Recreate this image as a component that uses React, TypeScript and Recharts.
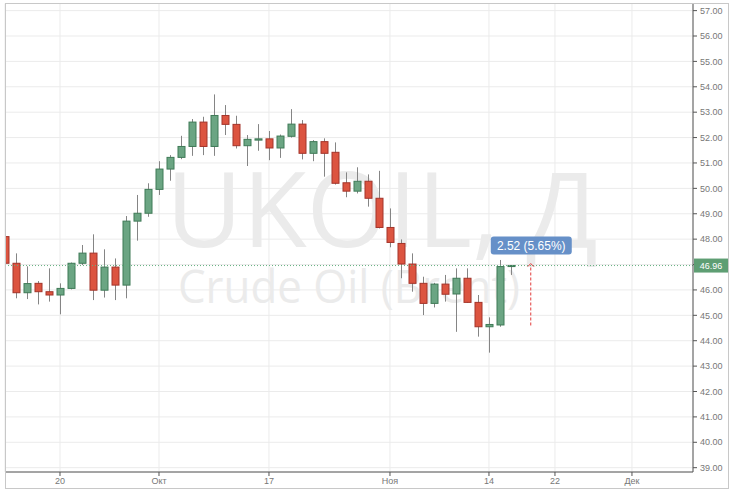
import { ComposedChart, Bar, XAxis, YAxis, CartesianGrid, ReferenceLine, ReferenceDot } from "recharts";

// Торговые дни (UKOIL, дневки)
const dates = [
  "13.09", "14.09", "15.09", "16.09", "19.09", "20.09", "21.09", "22.09", "23.09", "26.09",
  "27.09", "28.09", "29.09", "30.09", "03.10", "04.10", "05.10", "06.10", "07.10", "10.10",
  "11.10", "12.10", "13.10", "14.10", "17.10", "18.10", "19.10", "20.10", "21.10", "24.10",
  "25.10", "26.10", "27.10", "28.10", "31.10", "01.11", "02.11", "03.11", "04.11", "07.11",
  "08.11", "09.11", "10.11", "11.11", "14.11", "15.11", "16.11",
];
const opens = [
  48.1, 47.05, 45.89, 46.26, 45.93, 45.8, 46.06, 47.05, 47.45, 45.99,
  46.9, 46.19, 48.71, 49.02, 49.96, 50.76, 51.22, 51.65, 52.61, 51.65,
  52.87, 52.52, 51.68, 51.9, 51.95, 51.59, 52.05, 52.53, 51.38, 51.84,
  51.42, 50.22, 49.89, 50.28, 49.61, 48.46, 47.83, 47.02, 46.26, 45.47,
  46.23, 45.84, 46.46, 45.51, 44.55, 44.62, 46.92,
];
const highs = [
  48.4, 47.44, 46.93, 46.35, 46.85, 46.26, 47.08, 47.77, 48.19, 47.6,
  47.24, 48.91, 49.74, 50.2, 51.07, 51.31, 52.07, 52.73, 52.82, 53.7,
  53.28, 52.86, 52.1, 52.53, 52.26, 52.12, 53.12, 52.69, 51.9, 51.97,
  51.81, 50.63, 50.83, 50.55, 50.69, 49.21, 47.99, 47.44, 46.52, 46.28,
  46.59, 46.85, 46.85, 45.8, 44.92, 47.18, 46.98,
];
const lows = [
  46.9, 45.67, 45.64, 45.43, 45.54, 45.04, 46.02, 46.98, 45.6, 45.7,
  45.6, 45.67, 47.94, 48.88, 49.74, 50.3, 51.15, 51.28, 51.31, 51.28,
  52.1, 51.57, 50.88, 51.48, 51.11, 51.2, 52.0, 51.14, 51.07, 50.46,
  50.15, 49.65, 49.8, 49.28, 48.42, 47.68, 46.46, 45.93, 45.01, 45.31,
  45.54, 44.35, 45.49, 44.16, 43.53, 44.55, 46.59,
];
const closes = [
  47.05, 45.89, 46.25, 45.93, 45.8, 46.06, 47.05, 47.45, 45.99, 46.9,
  46.19, 48.71, 49.02, 49.96, 50.76, 51.22, 51.65, 52.61, 51.65, 52.87,
  52.52, 51.68, 51.93, 51.95, 51.59, 52.06, 52.53, 51.38, 51.84, 51.38,
  50.2, 49.89, 50.28, 49.61, 48.46, 47.87, 47.02, 46.26, 45.47, 46.23,
  45.83, 46.46, 45.51, 44.55, 44.64, 46.92, 46.96,
];

// подписи оси времени (индекс торгового дня -> подпись)
const tickIdx = [5, 14, 24, 35, 44, 50, 57];
const tickLabels = ["20", "Окт", "17", "Ноя", "14", "22", "Дек"];
const priceTicks = [39, 40, 41, 42, 43, 44, 45, 46, 47, 48, 49, 50, 51, 52, 53, 54, 55, 56, 57];

const lastPrice = 46.96;
const changeFrom = 44.6;
const changeIdx = 47.8;
const changeText = "2.52 (5.65%)";

const GREEN = "#6ba583";
const GREEN_EDGE = "#3f7a57";
const RED = "#dc5440";
const RED_EDGE = "#a3342a";
const FONT = "'Liberation Sans', Arial, sans-serif";

const rows = dates.map((d, i) => ({
  i,
  date: d,
  open: opens[i],
  high: highs[i],
  low: lows[i],
  close: closes[i],
  range: [lows[i], highs[i]],
}));

function Candle(props: any) {
  const { x, y, width, height, payload } = props;
  if (!payload || payload.open == null) return null;
  const { open, high, low, close } = payload;
  const top = Math.min(y, y + height);
  const h = Math.abs(height);
  const k = h / (high - low);
  const yO = top + (high - open) * k;
  const yC = top + (high - close) * k;
  const up = close >= open;
  const cx = Math.round(x + width / 2) + 0.5;
  const bTop = Math.min(yO, yC);
  const bH = Math.max(Math.abs(yO - yC), 1);
  return (
    <g>
      <line x1={cx} x2={cx} y1={top} y2={top + h} stroke="#858585" strokeWidth={1} />
      <rect
        x={cx - 3.5}
        y={bTop}
        width={7}
        height={bH}
        fill={up ? GREEN : RED}
        stroke={up ? GREEN_EDGE : RED_EDGE}
        strokeWidth={1}
      />
    </g>
  );
}

function PriceTag(props: any) {
  const { cx, cy } = props;
  return (
    <g>
      <rect x={cx + 1} y={cy - 7} width={34} height={14} fill="#5e9e73" />
      <text x={cx + 18} y={cy + 3.5} textAnchor="middle" fontSize={9} fill="#fff" fontFamily={FONT}>
        {lastPrice.toFixed(2)}
      </text>
    </g>
  );
}

function ChangeTag(props: any) {
  const { cx, cy } = props;
  return (
    <g>
      <polyline
        points={`${cx - 3},${cy + 1} ${cx},${cy - 2} ${cx + 3},${cy + 1}`}
        fill="none"
        stroke="#e23b3b"
        strokeWidth={1}
      />
      <rect x={cx - 40} y={cy - 29} width={81} height={18} rx={3} fill="#6690c8" />
      <text x={cx + 0.5} y={cy - 15.5} textAnchor="middle" fontSize={12} fill="#fff" fontFamily={FONT}>
        {changeText}
      </text>
    </g>
  );
}

export default function App() {
  return (
    <div style={{ position: "absolute", left: 0, top: 0, width: 730, height: 491, background: "#fff" }}>
      <ComposedChart
        width={730}
        height={491}
        data={rows}
        margin={{ top: 3.5, right: 0, bottom: 0, left: 5 }}
      >
        <text
          x={382}
          y={247}
          textAnchor="middle"
          fontSize={104}
          fill="#ebebeb"
          fontFamily="'Open Sans', sans-serif"
          textLength={432}
          lengthAdjust="spacingAndGlyphs"
        >
          UKOIL, Д
        </text>
        <text
          x={349}
          y={303}
          textAnchor="middle"
          fontSize={46}
          fill="#ebebeb"
          fontFamily="'Open Sans', sans-serif"
          textLength={342}
          lengthAdjust="spacingAndGlyphs"
        >
          Crude Oil (Brent)
        </text>
        <CartesianGrid stroke="#ebebeb" />
        <XAxis
          type="number"
          dataKey="i"
          domain={[0, 62.55]}
          ticks={tickIdx}
          interval={0}
          allowDataOverflow
          height={19}
          tickSize={4}
          tickMargin={2}
          tickFormatter={(v: number) => tickLabels[tickIdx.indexOf(v)] ?? ""}
          tick={{ fontSize: 9, fill: "#777", fontFamily: FONT }}
          stroke="#555"
        />
        <YAxis
          orientation="right"
          domain={[38.83, 57.28]}
          ticks={priceTicks}
          interval={0}
          allowDataOverflow
          width={37}
          tickSize={4}
          tickMargin={3}
          tickFormatter={(v: number) => (Math.abs(v - lastPrice) < 0.3 ? "" : v.toFixed(2))}
          tick={{ fontSize: 9, fill: "#777", fontFamily: FONT }}
          stroke="#555"
        />
        <ReferenceLine y={lastPrice} stroke="#63b07f" strokeDasharray="1 2" />
        <Bar dataKey="range" barSize={7} isAnimationActive={false} shape={(p: any) => <Candle {...p} />} />
        <ReferenceLine
          segment={[
            { x: changeIdx, y: changeFrom },
            { x: changeIdx, y: lastPrice },
          ]}
          stroke="#e23b3b"
          strokeDasharray="3 2"
        />
        <ReferenceDot x={changeIdx} y={lastPrice} r={0} shape={(p: any) => <ChangeTag {...p} />} />
        <ReferenceDot x={62.55} y={lastPrice} r={0} shape={(p: any) => <PriceTag {...p} />} />
      </ComposedChart>
      <div
        style={{
          position: "absolute",
          left: 5,
          top: 3,
          width: 724,
          height: 486,
          boxSizing: "border-box",
          border: "1px solid #c8c8c8",
          pointerEvents: "none",
        }}
      />
    </div>
  );
}
